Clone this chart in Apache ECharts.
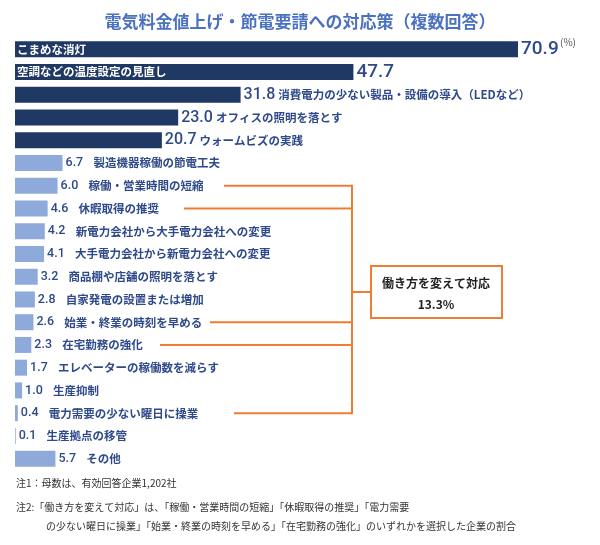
<!DOCTYPE html>
<html><head><meta charset="utf-8">
<script src="https://cdn.jsdelivr.net/npm/echarts@6/dist/echarts.min.js"></script>
<style>html,body{margin:0;padding:0;background:#fff}#c{width:600px;height:545px}</style>
</head><body><div id="c"></div>
<script>
const categories = ["こまめな消灯","空調などの温度設定の見直し","消費電力の少ない製品・設備の導入（LEDなど）","オフィスの照明を落とす","ウォームビズの実践","製造機器稼働の節電工夫","稼働・営業時間の短縮","休暇取得の推奨","新電力会社から大手電力会社への変更","大手電力会社から新電力会社への変更","商品棚や店舗の照明を落とす","自家発電の設置または増加","始業・終業の時刻を早める","在宅勤務の強化","エレベーターの稼働数を減らす","生産抑制","電力需要の少ない曜日に操業","生産拠点の移管","その他"];
const values = [70.9,47.7,31.8,23.0,20.7,6.7,6.0,4.6,4.2,4.1,3.2,2.8,2.6,2.3,1.7,1.0,0.4,0.1,5.7];
const bracketRows = [6,7,12,13,16];
const bracketStartX = [224,184,210,160,234];
const NAVY='#1f3864', LIGHT='#8eaadb', TXT='#2f4a8a';
const chart = echarts.init(document.getElementById('c'));
const data = values.map((v,i)=>{
  const dark = i<5;
  const f = i<2 ? '{big|'+v.toFixed(1)+'}' : (dark ? '{mid|'+v.toFixed(1)+'}{nm|'+categories[i]+'}' : '{sm|'+v.toFixed(1)+'}{nm|  '+categories[i]+'}');
  return {value:v,itemStyle:{color:dark?NAVY:LIGHT},label:{formatter:f}};
});
const inside = values.map((v,i)=> i<2 ? {value:v,label:{show:true}} : {value:v,label:{show:false}});
chart.setOption({
  animation:false,
  title:{text:'電気料金値上げ・節電要請への対応策（複数回答）',left:'center',top:8,textStyle:{color:'#4a72c0',fontSize:17,fontWeight:'bold',fontFamily:'Noto Sans CJK JP'}},
  grid:{left:15,width:503,top:38,height:432},
  xAxis:{type:'value',min:0,max:70.9,show:false},
  yAxis:{type:'category',data:categories,inverse:true,show:false},
  series:[
    {type:'bar',data:data,barWidth:16,
     label:{show:true,position:'right',distance:3,fontFamily:'Noto Sans CJK JP',
       rich:{big:{fontSize:19,color:TXT,fontWeight:500,fontFamily:'Roboto'},
             mid:{fontSize:16,color:TXT,fontWeight:500,padding:[0,3,0,0],fontFamily:'Roboto'},
             sm:{fontSize:12.5,color:TXT,fontWeight:500,padding:[0,5,0,0],fontFamily:'Roboto'},
             nm:{fontSize:11.5,color:TXT,fontWeight:'bold',fontFamily:'Noto Sans CJK JP'}}}},
    {type:'bar',data:inside,barWidth:16,barGap:'-100%',silent:true,itemStyle:{color:'rgba(0,0,0,0)'},
     label:{position:'insideLeft',distance:2,formatter:'{b}',color:'#fff',fontSize:11.5,fontWeight:'bold',fontFamily:'Noto Sans CJK JP'}}
  ]
});
const ys = bracketRows.map(r=>chart.convertToPixel({yAxisIndex:0},categories[r]));
const vx=352, OR='#ed7d31';
const g=[];
ys.forEach((y,k)=>g.push({type:'line',shape:{x1:bracketStartX[k],y1:y,x2:vx,y2:y},style:{stroke:OR,lineWidth:2}}));
g.push({type:'line',shape:{x1:vx,y1:ys[0]-1,x2:vx,y2:ys[ys.length-1]+1},style:{stroke:OR,lineWidth:2}});
const my=292;
g.push({type:'line',shape:{x1:vx,y1:my,x2:371,y2:my},style:{stroke:OR,lineWidth:2}});
g.push({type:'rect',shape:{x:371,y:266,width:131,height:52},style:{fill:'#fff',stroke:OR,lineWidth:2}});
g.push({type:'text',x:436,y:283,style:{text:'働き方を変えて対応',align:'center',verticalAlign:'middle',font:'bold 12px "Noto Sans CJK JP"',fill:'#222'}});
g.push({type:'text',x:436,y:304,style:{text:'13.3%',align:'center',verticalAlign:'middle',font:'bold 12px "Noto Sans CJK JP"',fill:'#222'}});
g.push({type:'text',x:560,y:42,style:{text:'(%)',font:'10px "Noto Sans CJK JP"',fill:'#555',verticalAlign:'middle'}});
const nf='10px "Noto Sans CJK JP"';
g.push({type:'text',x:16,y:483,style:{text:'注1：母数は、有効回答企業1,202社',font:nf,fill:'#333',verticalAlign:'middle'}});
g.push({type:'text',x:16,y:507,style:{text:'注2:「働き方を変えて対応」は、「稼働・営業時間の短縮」「休暇取得の推奨」「電力需要',font:nf,fill:'#333',verticalAlign:'middle'}});
g.push({type:'text',x:46,y:526,style:{text:'の少ない曜日に操業」「始業・終業の時刻を早める」「在宅勤務の強化」のいずれかを選択した企業の割合',font:nf,fill:'#333',verticalAlign:'middle'}});
chart.setOption({graphic:g});
</script></body></html>
